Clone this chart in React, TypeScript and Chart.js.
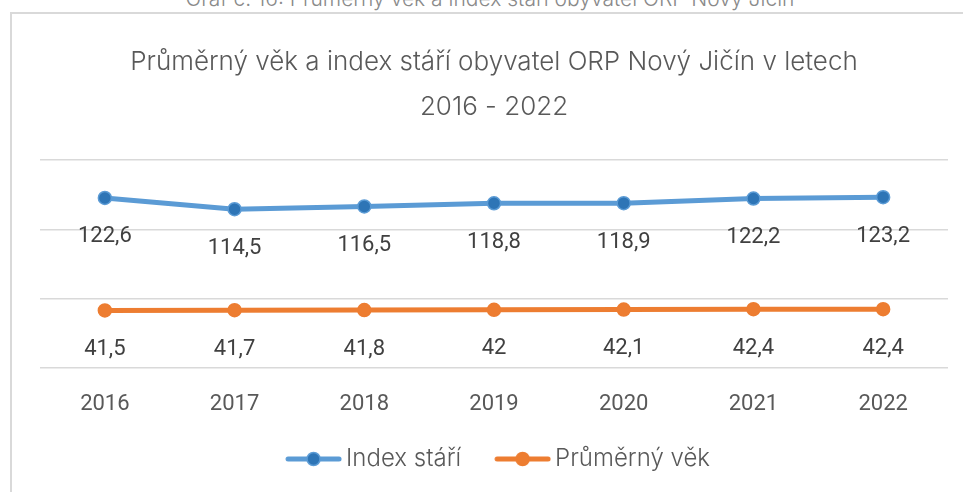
import React, { useEffect, useRef } from "react";
import { Chart, registerables } from "chart.js";

Chart.register(...registerables);

const years = ["2016", "2017", "2018", "2019", "2020", "2021", "2022"];
const indexStari = [122.6, 114.5, 116.5, 118.8, 118.9, 122.2, 123.2];
const prumernyVek = [41.5, 41.7, 41.8, 42, 42.1, 42.4, 42.4];
const seriesNames = ["Index stáří", "Průměrný věk"];
const titleLines = ["Průměrný věk a index stáří obyvatel ORP Nový Jičín v letech", "2016 - 2022"];
const captionText = "Graf č. 16: Průměrný věk a index stáří obyvatel ORP Nový Jičín";

const FONT = "Roboto";
const TFONT = "Inter";

function makeLegendImage(lineColor: string, fill: string, border: string) {
  const W = 72, H = 24, m = 15;
  const c = document.createElement("canvas");
  c.width = W;
  c.height = H;
  const ctx = c.getContext("2d")!;
  ctx.strokeStyle = lineColor;
  ctx.lineWidth = 5;
  ctx.lineCap = "round";
  ctx.beginPath();
  ctx.moveTo(m + 3, H / 2);
  ctx.lineTo(W - 3, H / 2);
  ctx.stroke();
  ctx.beginPath();
  ctx.arc(m + (W - m) / 2, H / 2, 6.5, 0, Math.PI * 2);
  ctx.fillStyle = fill;
  ctx.fill();
  ctx.lineWidth = 1.5;
  ctx.strokeStyle = border;
  ctx.stroke();
  return c;
}

const valueLabels = {
  id: "valueLabels",
  afterDatasetsDraw(chart: any) {
    const ctx = chart.ctx;
    ctx.save();
    ctx.font = `400 22px ${FONT}`;
    ctx.fillStyle = "#404040";
    ctx.textAlign = "center";
    ctx.textBaseline = "middle";
    chart.data.datasets.forEach((ds: any, i: number) => {
      const meta = chart.getDatasetMeta(i);
      meta.data.forEach((pt: any, j: number) => {
        const v = ds.data[j];
        const txt = String(v).replace(".", ",");
        ctx.fillText(txt, pt.x, pt.y + 39);
      });
    });
    ctx.restore();
  },
};

export default function App() {
  const ref = useRef<HTMLCanvasElement>(null);
  useEffect(() => {
    const legendImgs = [
      makeLegendImage("#5B9BD5", "#2E75B6", "#5B9BD5"),
      makeLegendImage("#ED7D31", "#ED7D31", "#ED7D31"),
    ];
    const chart = new Chart(ref.current!, {
      type: "line",
      data: {
        labels: years,
        datasets: [
          {
            label: seriesNames[0],
            data: indexStari,
            borderColor: "#5B9BD5",
            backgroundColor: "#2E75B6",
            borderWidth: 5,
            pointRadius: 6.5,
            pointBorderWidth: 1.5,
            pointBorderColor: "#5B9BD5",
            pointBackgroundColor: "#2E75B6",
            tension: 0,
          },
          {
            label: seriesNames[1],
            data: prumernyVek,
            borderColor: "#ED7D31",
            backgroundColor: "#ED7D31",
            borderWidth: 5,
            pointRadius: 6.5,
            pointBorderWidth: 1.5,
            pointBorderColor: "#ED7D31",
            pointBackgroundColor: "#ED7D31",
            tension: 0,
          },
        ],
      },
      options: {
        animation: false,
        responsive: false,
        devicePixelRatio: 1,
        layout: { padding: { left: 40, right: 15, top: 40, bottom: 11 } },
        plugins: {
          tooltip: { enabled: false },
          title: {
            display: true,
            text: titleLines,
            color: "#595959",
            font: { family: TFONT, size: 26, weight: "300", lineHeight: "45px" },
            padding: { top: 0, bottom: 30 },
          },
          legend: {
            position: "bottom",
            labels: {
              usePointStyle: true,
              pointStyleWidth: 56,
              padding: 26,
              color: "#595959",
              font: { family: TFONT, size: 24, weight: "300" },
              generateLabels: (ch: any) =>
                ch.data.datasets.map((ds: any, i: number) => ({
                  text: ds.label,
                  pointStyle: legendImgs[i],
                  fillStyle: ds.backgroundColor,
                  strokeStyle: ds.borderColor,
                  lineWidth: 0,
                  hidden: false,
                  datasetIndex: i,
                  fontColor: "#595959",
                })),
            },
          },
        },
        scales: {
          x: {
            offset: true,
            grid: { display: false, drawTicks: false },
            border: { display: false },
            ticks: {
              color: "#595959",
              padding: 25,
              font: { family: FONT, size: 22, lineHeight: "22px" },
            },
            afterFit: (scale: any) => {
              scale.height = 53;
            },
          },
          y: {
            display: true,
            min: 0,
            max: 150,
            grid: { color: "#d9d9d9", lineWidth: 1.5, drawTicks: false },
            border: { display: false },
            ticks: { display: false, stepSize: 50 },
          },
        },
      },
      plugins: [valueLabels],
    });
    return () => chart.destroy();
  }, []);

  return (
    <div style={{ position: "fixed", left: 0, top: 0, width: 963, height: 492, overflow: "hidden", background: "#fff" }}>
      <div
        style={{
          position: "absolute",
          top: -12,
          left: 0,
          width: 980,
          textAlign: "center",
          fontFamily: TFONT,
          fontWeight: 300,
          fontSize: 21,
          lineHeight: "22px",
          color: "#8a8a8a",
          whiteSpace: "nowrap",
        }}
      >
        {captionText}
      </div>
      <div
        style={{
          position: "absolute",
          left: 10,
          top: 12,
          width: 1000,
          height: 600,
          borderLeft: "2px solid #d9d9d9",
          borderTop: "2px solid #d9d9d9",
        }}
      />
      <canvas ref={ref} width={963} height={492} style={{ position: "absolute", left: 0, top: 0, width: 963, height: 492 }} />
    </div>
  );
}
